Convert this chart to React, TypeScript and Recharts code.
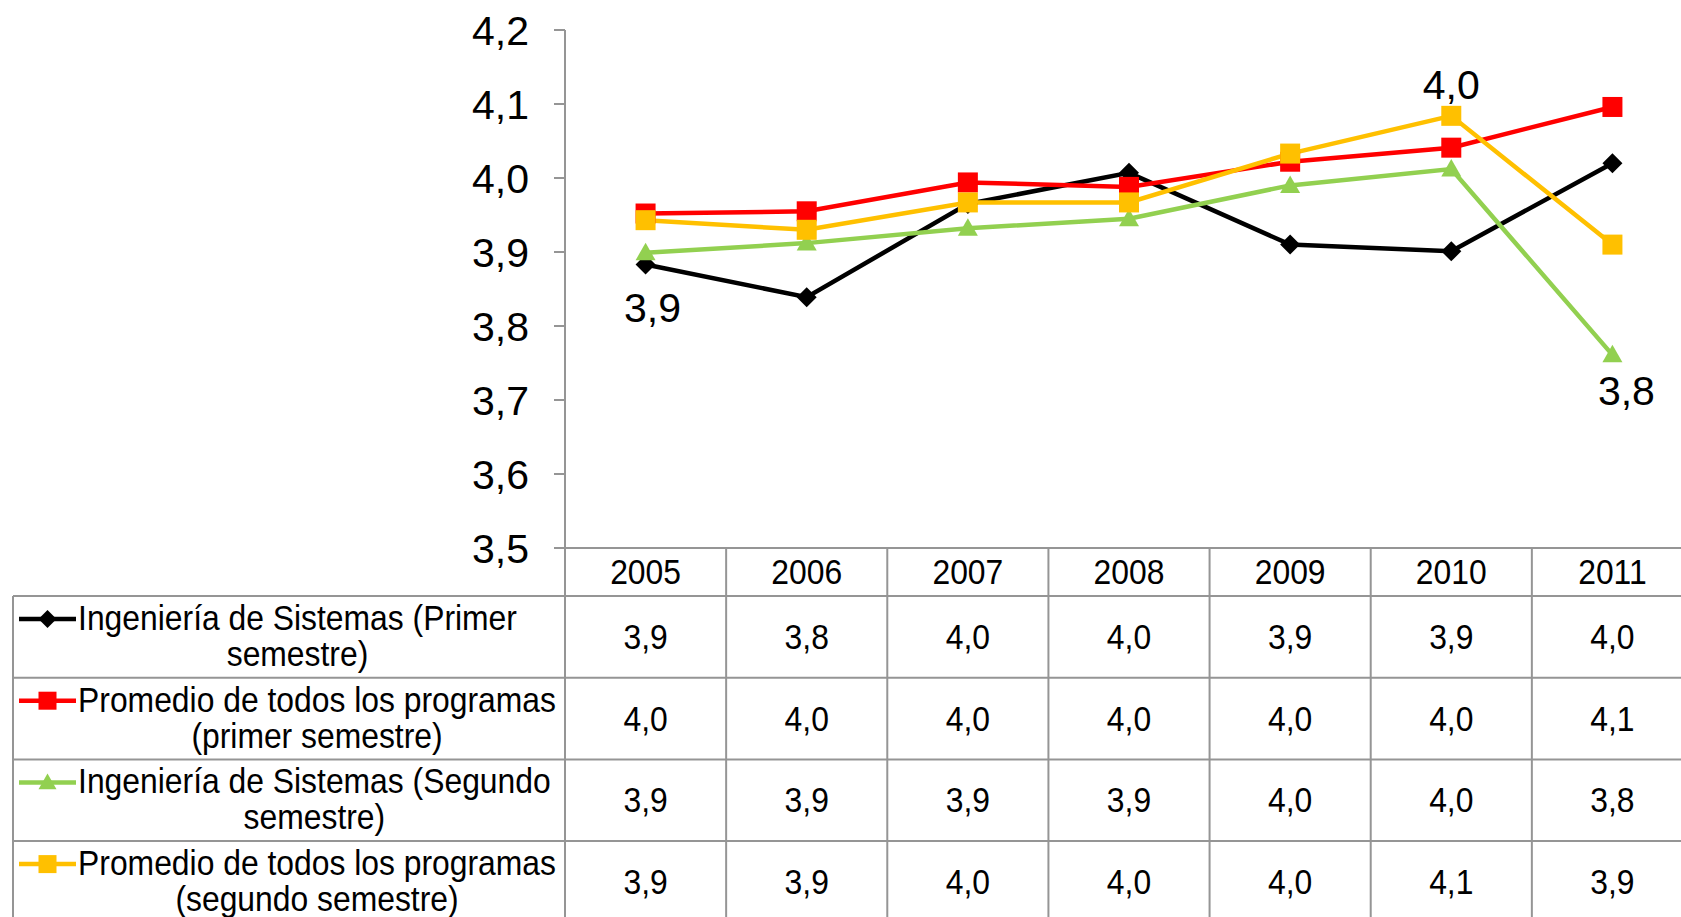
import React from "react";
import { LineChart, Line, XAxis, YAxis } from "recharts";

const years = ["2005", "2006", "2007", "2008", "2009", "2010", "2011"];
const sistemasPrimer = [3.883, 3.839, 3.965, 4.007, 3.91, 3.901, 4.02];
const promedioPrimer = [3.952, 3.955, 3.994, 3.988, 4.022, 4.041, 4.096];
const sistemasSegundo = [3.899, 3.912, 3.932, 3.945, 3.99, 4.012, 3.761];
const promedioSegundo = [3.943, 3.93, 3.967, 3.967, 4.033, 4.084, 3.91];
const yTicks = [3.5, 3.6, 3.7, 3.8, 3.9, 4.0, 4.1, 4.2];

type Marker = "diamond" | "square" | "triangle";

const series: {
  key: string;
  lines: string[];
  color: string;
  marker: Marker;
  values: number[];
  labelAt: number[];
}[] = [
  {
    key: "s1",
    lines: ["Ingeniería de Sistemas (Primer", "semestre)"],
    color: "#000000",
    marker: "diamond",
    values: sistemasPrimer,
    labelAt: [0],
  },
  {
    key: "s2",
    lines: ["Promedio de todos los programas", "(primer semestre)"],
    color: "#ff0000",
    marker: "square",
    values: promedioPrimer,
    labelAt: [5],
  },
  {
    key: "s3",
    lines: ["Ingeniería de Sistemas (Segundo", "semestre)"],
    color: "#92d050",
    marker: "triangle",
    values: sistemasSegundo,
    labelAt: [6],
  },
  {
    key: "s4",
    lines: ["Promedio de todos los programas", "(segundo semestre)"],
    color: "#ffc000",
    marker: "square",
    values: promedioSegundo,
    labelAt: [],
  },
];

const data = years.map((year, i) => {
  const row: Record<string, string | number> = { year };
  series.forEach((s) => (row[s.key] = s.values[i]));
  return row;
});

const FONT = '"Liberation Sans", Arial, sans-serif';
const GRID = "#959595";
const CHART_W = 1700;
const CHART_H = 940;
const MARGIN = { top: 30, right: 7, bottom: 0, left: 0 };
const Y_AXIS_W = 565;
const X_AXIS_H = 392;
const COL_W = (CHART_W - MARGIN.left - MARGIN.right - Y_AXIS_W) / years.length;
const HEADER_H = 48;
const ROW_H = 81.7;
const LEGEND_LEFT = 13;
const TABLE_FS = 35;
const SQUEEZE = 0.91;

const fmt = (v: number) => v.toFixed(1).replace(".", ",");

let ctx: CanvasRenderingContext2D | null = null;
function textWidth(t: string) {
  if (!ctx) ctx = document.createElement("canvas").getContext("2d");
  if (!ctx) return t.length * 16;
  ctx.font = `${TABLE_FS}px "Liberation Sans", Arial, sans-serif`;
  return ctx.measureText(t).width * SQUEEZE;
}

function NarrowText({ x, y, children, anchor = "middle" }: any) {
  return (
    <text
      transform={`translate(${x} ${y}) scale(${SQUEEZE} 1)`}
      textAnchor={anchor}
      fontSize={TABLE_FS}
      fontFamily={FONT}
      fill="#000"
    >
      {children}
    </text>
  );
}

function MarkerShape({ kind, cx, cy, color, s = 10 }: any) {
  if (kind === "diamond")
    return (
      <polygon
        points={`${cx},${cy - s} ${cx + s},${cy} ${cx},${cy + s} ${cx - s},${cy}`}
        fill={color}
      />
    );
  if (kind === "triangle")
    return (
      <polygon
        points={`${cx},${cy - s} ${cx + s},${cy + s * 0.75} ${cx - s},${cy + s * 0.75}`}
        fill={color}
      />
    );
  return <rect x={cx - s} y={cy - s} width={s * 2} height={s * 2} fill={color} />;
}

// offsets for the few data labels shown on the plot
const labelShift: Record<string, { dx: number; dy: number }> = {
  s1: { dx: 7, dy: 57 },
  s2: { dx: 0, dy: -49 },
  s3: { dx: 14, dy: 50 },
};

function makeDot(s: (typeof series)[number]) {
  return (p: any) => {
    const { cx, cy, index, value } = p;
    const showLabel = s.labelAt.includes(index);
    const sh = labelShift[s.key];
    return (
      <g key={`${s.key}-dot-${index}`}>
        <MarkerShape kind={s.marker} cx={cx} cy={cy} color={s.color} />
        {showLabel && sh && (
          <text
            x={cx + sh.dx}
            y={cy + sh.dy}
            textAnchor="middle"
            fontSize={41}
            fontFamily={FONT}
            fill="#000"
          >
            {fmt(value)}
          </text>
        )}
      </g>
    );
  };
}

function TableTick(props: any) {
  const { x, y, payload } = props;
  const i: number = payload.index;
  const half = COL_W / 2;
  const rowsTop = y + HEADER_H;
  const bottom = rowsTop + ROW_H * series.length + 30;
  const left = x - half;
  const right = x + half;

  const cells = series.map((s, r) => {
    const top = rowsTop + r * ROW_H;
    return (
      <g key={`c-${r}`}>
        <line x1={left} x2={right} y1={top} y2={top} stroke={GRID} strokeWidth={2} />
        <NarrowText x={x} y={top + 53}>
          {fmt(s.values[i])}
        </NarrowText>
      </g>
    );
  });

  let legend = null;
  if (i === 0) {
    legend = (
      <g>
        <line x1={left} x2={left} y1={y} y2={bottom} stroke={GRID} strokeWidth={2} />
        <line x1={LEGEND_LEFT} x2={LEGEND_LEFT} y1={rowsTop} y2={bottom} stroke={GRID} strokeWidth={2} />
        {series.map((s, r) => {
          const top = rowsTop + r * ROW_H;
          const maxW = Math.max(...s.lines.map(textWidth));
          const textLeft = 78;
          const midY = top + 23;
          return (
            <g key={`lg-${r}`}>
              <line x1={LEGEND_LEFT} x2={left} y1={top} y2={top} stroke={GRID} strokeWidth={2} />
              <line x1={19} x2={76} y1={midY} y2={midY} stroke={s.color} strokeWidth={4.5} />
              <MarkerShape kind={s.marker} cx={47.5} cy={midY} color={s.color} s={9} />
              {s.lines.map((ln, k) => (
                <NarrowText key={k} x={textLeft + maxW / 2} y={top + 34 + k * 36}>
                  {ln}
                </NarrowText>
              ))}
            </g>
          );
        })}
      </g>
    );
  }

  return (
    <g>
      {legend}
      <line x1={right} x2={right} y1={y} y2={bottom} stroke={GRID} strokeWidth={2} />
      <NarrowText x={x} y={y + 36}>
        {payload.value}
      </NarrowText>
      {cells}
    </g>
  );
}

export default function App() {
  return (
    <div
      style={{
        position: "absolute",
        left: 0,
        top: 0,
        width: 1681,
        height: 917,
        overflow: "hidden",
        background: "#fff",
      }}
    >
      <LineChart width={CHART_W} height={CHART_H} data={data} margin={MARGIN}>
        <XAxis
          dataKey="year"
          height={X_AXIS_H}
          padding={{ left: COL_W / 2, right: COL_W / 2 }}
          axisLine={{ stroke: GRID, strokeWidth: 2 }}
          tickLine={false}
          tickSize={0}
          tickMargin={0}
          interval={0}
          tick={<TableTick />}
        />
        <YAxis
          width={Y_AXIS_W}
          domain={[3.5, 4.2]}
          ticks={yTicks}
          tickFormatter={fmt}
          axisLine={{ stroke: GRID, strokeWidth: 2 }}
          tickLine={{ stroke: GRID, strokeWidth: 2 }}
          tickSize={11}
          tickMargin={25}
          tick={{ fontSize: 41, fill: "#000", fontFamily: FONT }}
        />
        {series.map((s) => (
          <Line
            key={s.key}
            dataKey={s.key}
            type="linear"
            stroke={s.color}
            strokeWidth={4.5}
            dot={makeDot(s)}
            activeDot={false}
            isAnimationActive={false}
          />
        ))}
      </LineChart>
    </div>
  );
}
